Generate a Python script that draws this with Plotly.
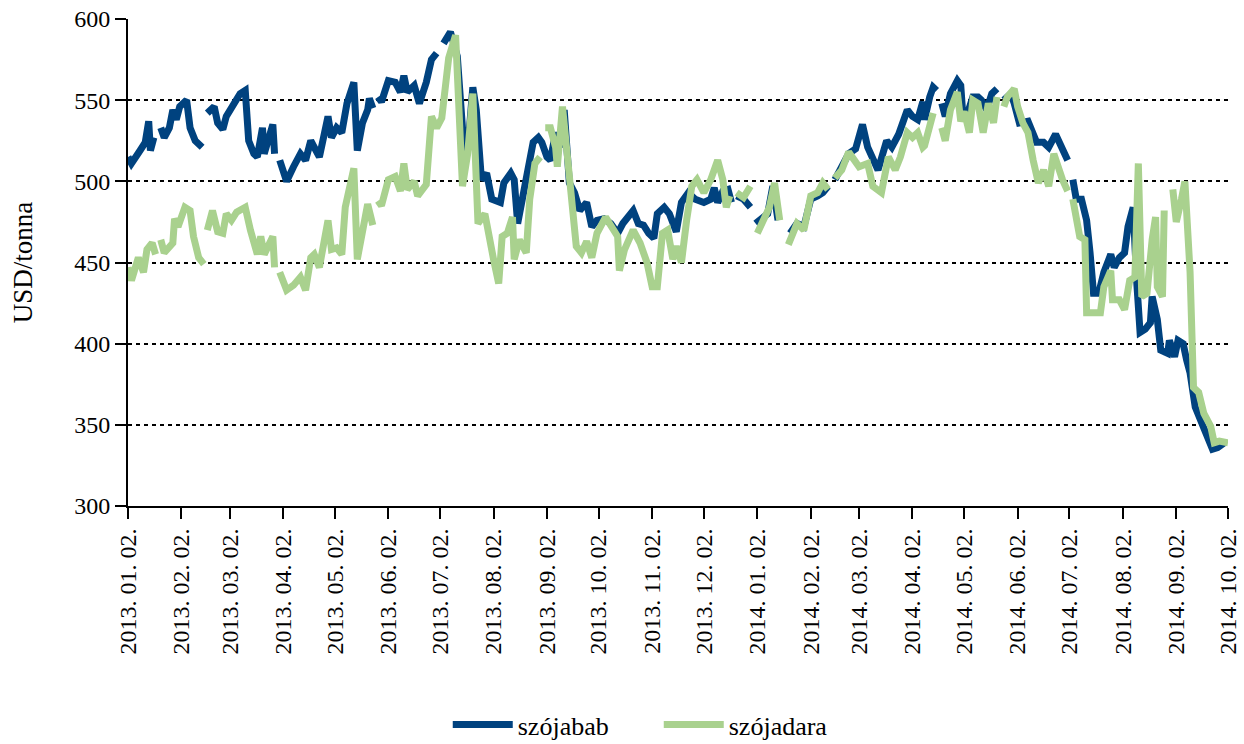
import plotly.graph_objects as go
import pandas as pd

# szójabab (kék)
bab_dates = [
    "2013-01-02", "2013-01-04", "2013-01-09", "2013-01-12", "2013-01-14", "2013-01-15", "2013-01-17", "2013-01-19",
    "2013-01-21", "2013-01-23", "2013-01-26", "2013-01-28", "2013-01-30", "2013-02-01", "2013-02-05", "2013-02-07",
    "2013-02-10", "2013-02-14", "2013-02-16", "2013-02-17", "2013-02-21", "2013-02-23", "2013-02-26", "2013-02-28",
    "2013-03-02", "2013-03-05", "2013-03-08", "2013-03-11", "2013-03-13", "2013-03-16", "2013-03-18", "2013-03-21",
    "2013-03-22", "2013-03-27", "2013-03-28", "2013-03-30", "2013-03-31", "2013-04-04", "2013-04-08", "2013-04-12",
    "2013-04-15", "2013-04-18", "2013-04-20", "2013-04-23", "2013-04-28", "2013-04-30", "2013-05-03", "2013-05-06",
    "2013-05-09", "2013-05-13", "2013-05-15", "2013-05-18", "2013-05-21", "2013-05-22", "2013-05-24", "2013-05-25",
    "2013-05-27", "2013-05-29", "2013-06-02", "2013-06-06", "2013-06-09", "2013-06-11", "2013-06-13", "2013-06-17",
    "2013-06-20", "2013-06-24", "2013-06-27", "2013-06-30", "2013-07-02", "2013-07-04", "2013-07-08", "2013-07-12",
    "2013-07-15", "2013-07-18", "2013-07-21", "2013-07-23", "2013-07-26", "2013-07-29", "2013-08-01", "2013-08-06",
    "2013-08-08", "2013-08-12", "2013-08-14", "2013-08-16", "2013-08-19", "2013-08-22", "2013-08-25", "2013-08-28",
    "2013-08-30", "2013-09-02", "2013-09-04", "2013-09-07", "2013-09-10", "2013-09-12", "2013-09-15", "2013-09-18",
    "2013-09-21", "2013-09-25", "2013-09-28", "2013-10-01", "2013-10-05", "2013-10-09", "2013-10-13", "2013-10-16",
    "2013-10-18", "2013-10-22", "2013-10-25", "2013-10-28", "2013-10-31", "2013-11-03", "2013-11-05", "2013-11-09",
    "2013-11-12", "2013-11-16", "2013-11-19", "2013-11-23", "2013-11-27", "2013-12-02", "2013-12-06", "2013-12-08",
    "2013-12-10", "2013-12-13", "2013-12-16", "2013-12-18", "2013-12-19", "2013-12-21", "2013-12-25", "2013-12-29",
    "2013-12-30", "2014-01-01", "2014-01-05", "2014-01-08", "2014-01-11", "2014-01-14", "2014-01-17", "2014-01-21",
    "2014-01-25", "2014-01-29", "2014-02-02", "2014-02-06", "2014-02-09", "2014-02-12", "2014-02-14", "2014-02-16",
    "2014-02-20", "2014-02-24", "2014-02-28", "2014-03-04", "2014-03-07", "2014-03-11", "2014-03-13", "2014-03-18",
    "2014-03-21", "2014-03-25", "2014-03-30", "2014-04-02", "2014-04-05", "2014-04-08", "2014-04-09", "2014-04-12",
    "2014-04-14", "2014-04-16", "2014-04-17", "2014-04-19", "2014-04-21", "2014-04-24", "2014-04-28", "2014-04-30",
    "2014-05-01", "2014-05-04", "2014-05-07", "2014-05-10", "2014-05-12", "2014-05-15", "2014-05-18", "2014-05-21",
    "2014-05-23", "2014-05-25", "2014-05-29", "2014-05-31", "2014-06-03", "2014-06-08", "2014-06-11", "2014-06-13",
    "2014-06-17", "2014-06-20", "2014-06-24", "2014-06-27", "2014-07-01", "2014-07-02", "2014-07-04", "2014-07-06",
    "2014-07-09", "2014-07-12", "2014-07-14", "2014-07-16", "2014-07-19", "2014-07-22", "2014-07-26", "2014-07-28",
    "2014-07-31", "2014-08-03", "2014-08-05", "2014-08-08", "2014-08-10", "2014-08-12", "2014-08-15", "2014-08-18",
    "2014-08-19", "2014-08-22", "2014-08-24", "2014-08-28", "2014-08-29", "2014-09-01", "2014-09-03", "2014-09-06",
    "2014-09-08", "2014-09-10", "2014-09-13", "2014-09-16", "2014-09-20", "2014-09-22", "2014-09-23", "2014-09-26",
    "2014-09-30",
]
bab = [
    515, 511, 519, 524, 537, 519, 527, None,
    533, 527, 533, 544, 538, 546, 550, 533,
    525, 521, None, 542, 546, 536, 532, 540,
    544, 548, 554, 556, 525, 517, 515, 533,
    517, 535, 517, None, 513, 500, 509, 517,
    513, 525, 521, 515, 540, 527, 533, 530,
    548, 561, 519, 536, 544, 551, 545, None,
    552, 549, 562, 561, 555, 565, 555, 559,
    548, 561, 575, 579, None, 585, 592, 577,
    533, 519, 558, 544, 501, 505, 489, 487,
    499, 505, 501, 474, 491, 511, 524, 527,
    524, 515, 513, 530, 521, 544, 499, 493,
    482, 487, 472, 476, 477, 474, 468, 474,
    477, 482, 474, 473, 468, 465, 480, 484,
    480, 469, 487, 493, 489, 487, 489, 496,
    487, 494, 495, 487, None, 491, 489, 484,
    None, 474, 478, 480, 497, 476, None, 468,
    474, 472, 489, 491, 493, 497, None, 501,
    509, 517, 520, 535, 521, 513, 507, 525,
    521, 529, 544, 540, 538, 549, 538, 552,
    558, 556, None, 548, 540, 554, 562, 559,
    544, 542, 552, 552, 550, 544, 554, 557,
    None, 550, 554, 548, 536, 537, 530, 524,
    524, 521, 529, 521, 513, None, 501, 489,
    489, 476, 456, 431, 431, 444, 455, 447,
    453, 456, 472, 484, 439, 407, 409, 413,
    429, 415, 396, 394, 402, 392, 402, 400,
    390, 382, 361, 353, 345, 339, 335, 336,
    339,
]

# szójadara (zöld)
dara_dates = [
    "2013-01-02", "2013-01-04", "2013-01-08", "2013-01-11", "2013-01-13", "2013-01-16", "2013-01-18", "2013-01-19",
    "2013-01-21", "2013-01-23", "2013-01-28", "2013-01-29", "2013-01-31", "2013-02-04", "2013-02-07", "2013-02-09",
    "2013-02-12", "2013-02-15", "2013-02-16", "2013-02-17", "2013-02-20", "2013-02-23", "2013-02-26", "2013-02-28",
    "2013-03-03", "2013-03-06", "2013-03-11", "2013-03-14", "2013-03-18", "2013-03-20", "2013-03-22", "2013-03-27",
    "2013-03-28", "2013-03-30", "2013-03-31", "2013-04-04", "2013-04-08", "2013-04-12", "2013-04-15", "2013-04-18",
    "2013-04-20", "2013-04-23", "2013-04-28", "2013-04-30", "2013-05-03", "2013-05-06", "2013-05-08", "2013-05-13",
    "2013-05-15", "2013-05-18", "2013-05-21", "2013-05-24", "2013-05-25", "2013-05-27", "2013-05-29", "2013-06-02",
    "2013-06-06", "2013-06-09", "2013-06-11", "2013-06-13", "2013-06-17", "2013-06-19", "2013-06-24", "2013-06-27",
    "2013-06-30", "2013-07-03", "2013-07-07", "2013-07-11", "2013-07-15", "2013-07-18", "2013-07-21", "2013-07-24",
    "2013-07-28", "2013-08-02", "2013-08-05", "2013-08-07", "2013-08-10", "2013-08-13", "2013-08-14", "2013-08-17",
    "2013-08-21", "2013-08-23", "2013-08-26", "2013-08-29", "2013-08-30", "2013-09-01", "2013-09-04", "2013-09-07",
    "2013-09-08", "2013-09-11", "2013-09-14", "2013-09-17", "2013-09-19", "2013-09-22", "2013-09-25", "2013-09-28",
    "2013-10-01", "2013-10-06", "2013-10-10", "2013-10-13", "2013-10-14", "2013-10-17", "2013-10-22", "2013-10-26",
    "2013-10-30", "2013-11-02", "2013-11-05", "2013-11-08", "2013-11-11", "2013-11-14", "2013-11-16", "2013-11-19",
    "2013-11-22", "2013-11-25", "2013-11-28", "2013-12-02", "2013-12-06", "2013-12-10", "2013-12-13", "2013-12-15",
    "2013-12-17", "2013-12-19", "2013-12-21", "2013-12-25", "2013-12-29", "2013-12-30", "2014-01-02", "2014-01-06",
    "2014-01-09", "2014-01-12", "2014-01-15", "2014-01-17", "2014-01-20", "2014-01-25", "2014-01-29", "2014-02-02",
    "2014-02-06", "2014-02-09", "2014-02-12", "2014-02-14", "2014-02-16", "2014-02-20", "2014-02-24", "2014-02-26",
    "2014-03-02", "2014-03-07", "2014-03-10", "2014-03-15", "2014-03-19", "2014-03-23", "2014-03-26", "2014-03-30",
    "2014-04-02", "2014-04-05", "2014-04-08", "2014-04-09", "2014-04-12", "2014-04-14", "2014-04-17", "2014-04-19",
    "2014-04-21", "2014-04-24", "2014-04-28", "2014-04-30", "2014-05-02", "2014-05-05", "2014-05-07", "2014-05-10",
    "2014-05-13", "2014-05-16", "2014-05-19", "2014-05-21", "2014-05-23", "2014-05-25", "2014-05-27", "2014-05-31",
    "2014-06-02", "2014-06-05", "2014-06-08", "2014-06-11", "2014-06-14", "2014-06-17", "2014-06-20", "2014-06-23",
    "2014-06-25", "2014-06-28", "2014-07-01", "2014-07-02", "2014-07-04", "2014-07-05", "2014-07-08", "2014-07-11",
    "2014-07-12", "2014-07-16", "2014-07-20", "2014-07-22", "2014-07-26", "2014-07-27", "2014-07-31", "2014-08-03",
    "2014-08-06", "2014-08-09", "2014-08-11", "2014-08-13", "2014-08-16", "2014-08-19", "2014-08-21", "2014-08-22",
    "2014-08-25", "2014-08-26", "2014-08-28", "2014-08-31", "2014-09-02", "2014-09-05", "2014-09-07", "2014-09-10",
    "2014-09-12", "2014-09-15", "2014-09-18", "2014-09-22", "2014-09-24", "2014-09-27", "2014-10-02",
]
dara = [
    447, 439, 453, 444, 458, 462, 455, None,
    464, 456, 462, 477, 472, 484, 482, 466,
    453, 449, None, 470, 482, 469, 468, 480,
    476, 481, 484, 470, 455, 466, 455, 466,
    447, None, 444, 433, 436, 441, 433, 453,
    455, 447, 476, 458, 459, 455, 484, 508,
    452, 472, 486, 473, None, 488, 485, 501,
    503, 494, 511, 495, 500, 491, 498, 540,
    533, 539, 576, 590, 497, 517, 554, 474,
    480, 452, 437, 466, 468, 478, 452, 464,
    456, 489, 511, 515, None, 533, 533, 521,
    509, 546, 513, 474, 460, 456, 463, 453,
    468, 478, 470, 466, 445, 458, 470, 462,
    450, 435, 435, 468, 470, 452, 460, 450,
    476, 497, 501, 493, 501, 513, 501, 484,
    491, None, 493, 490, 497, None, 468, 476,
    484, 499, 476, None, 461, 474, 470, 491,
    493, 499, 495, None, 502, 507, 518, 515,
    509, 511, 497, 493, 515, 507, 515, 530,
    527, 530, 521, 522, 532, 542, None, 533,
    525, 544, 555, 537, 543, 530, 550, 548,
    530, 548, 536, 552, None, 546, 552, 557,
    546, 536, 530, 513, 499, 507, 497, 517,
    509, 501, 494, None, 489, 482, 466, 464,
    419, 419, 419, 435, 445, 427, 427, 421,
    439, 441, 511, 429, 431, 464, 478, 435,
    429, 482, None, 495, 475, 489, 500, 444,
    373, 370, 357, 349, 339, 340, 339,
]

# tengely feliratok: minden hónap 2-a
tick_dates = pd.date_range("2013-01-01", "2014-10-01", freq="MS") + pd.Timedelta(days=1)
tick_text = [d.strftime("%Y. %m. %d.") for d in tick_dates]

fig = go.Figure()

fig.add_trace(go.Scatter(
    x=bab_dates, y=bab, name="szójabab", mode="lines",
    line=dict(color="#00427F", width=7), connectgaps=False,
))
fig.add_trace(go.Scatter(
    x=dara_dates, y=dara, name="szójadara", mode="lines",
    line=dict(color="#A9D18E", width=7), connectgaps=False,
))

font = "Liberation Serif"

fig.update_layout(
    width=1244, height=744, autosize=False,
    margin=dict(l=128, r=16, t=19, b=238),
    plot_bgcolor="white", paper_bgcolor="white",
    font=dict(family=font, color="black", size=24),
    showlegend=True,
    legend=dict(
        orientation="h", x=0.4825, xanchor="center",
        yref="container", y=0.026, yanchor="middle",
        font=dict(size=26), itemwidth=60, entrywidth=136, tracegroupgap=0,
    ),
)

fig.update_xaxes(
    type="date", automargin=False,
    range=["2013-01-02", "2014-10-02"],
    tickvals=tick_dates, ticktext=tick_text, tickangle=-90,
    tickfont=dict(size=24),
    ticks="outside", ticklen=11, tickwidth=2, tickcolor="black",
    showline=True, linecolor="black", linewidth=2,
    showgrid=False, zeroline=False,
)
fig.update_yaxes(
    automargin=False,
    range=[300, 600], dtick=50,
    tickfont=dict(size=24),
    ticks="outside", ticklen=11, tickwidth=2, tickcolor="black",
    showline=True, linecolor="black", linewidth=2,
    showgrid=True, gridcolor="black", gridwidth=1.5, griddash="4px,4px",
    zeroline=False,
    title=dict(text="USD/tonna", font=dict(size=27), standoff=34),
)

# az oldal alapértelmezett 8px-es margója nélkül
fig.write_html(
    "out.html",
    config={"displayModeBar": False},
    post_script="document.body.style.margin='0';",
)
